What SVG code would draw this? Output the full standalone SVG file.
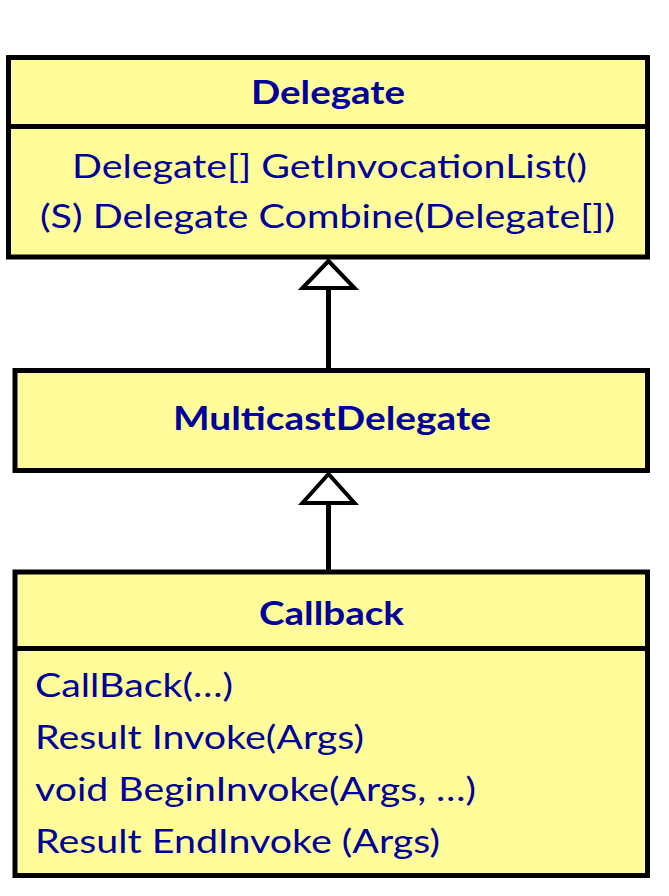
<svg xmlns="http://www.w3.org/2000/svg" width="669" height="896" viewBox="0 0 669 896">
<style>
.box{fill:#FFFC99;stroke:#000;stroke-width:5}
.div{stroke:#000;stroke-width:5}
.t{font-family:Lato,"Open Sans",sans-serif;font-size:33px;fill:#00009A}
.b{font-weight:bold}
.ln{stroke:#000;stroke-width:5;fill:none}
.tri{fill:#fff;stroke:#000;stroke-width:4;stroke-linejoin:miter}
</style>
<rect width="669" height="896" fill="#fff"/>
<g id="connectors">
<line class="ln" x1="328.5" y1="287" x2="328.5" y2="370"/>
<polygon class="tri" points="328.5,261 302.5,288 354.5,288"/>
<line class="ln" x1="328.5" y1="502" x2="328.5" y2="572"/>
<polygon class="tri" points="328.5,474 302.5,503 354.5,503"/>
</g>
<g id="delegate">
<rect class="box" x="8.5" y="57.5" width="639" height="199.5"/>
<line class="div" x1="8.5" y1="126.5" x2="647.5" y2="126.5"/>
<text class="t b" x="251" y="104" textLength="154" lengthAdjust="spacingAndGlyphs">Delegate</text>
<text class="t" x="72" y="178" textLength="515" lengthAdjust="spacingAndGlyphs">Delegate[] GetInvocationList()</text>
<text class="t" x="40" y="228" textLength="575" lengthAdjust="spacingAndGlyphs">(S) Delegate Combine(Delegate[])</text>
</g>
<g id="multicastdelegate">
<rect class="box" x="15" y="370.5" width="632.5" height="100"/>
<text class="t b" x="173" y="430" textLength="318" lengthAdjust="spacingAndGlyphs">MulticastDelegate</text>
</g>
<g id="callback">
<rect class="box" x="15" y="572" width="632.5" height="303.5"/>
<line class="div" x1="15" y1="648.5" x2="647.5" y2="648.5"/>
<text class="t b" x="259" y="625" textLength="145" lengthAdjust="spacingAndGlyphs">Callback</text>
<text class="t" x="35" y="697" textLength="198" lengthAdjust="spacingAndGlyphs">CallBack(…)</text>
<text class="t" x="35" y="749" textLength="329" lengthAdjust="spacingAndGlyphs">Result Invoke(Args)</text>
<text class="t" x="35" y="801" textLength="441" lengthAdjust="spacingAndGlyphs">void BeginInvoke(Args, …)</text>
<text class="t" x="35" y="853" textLength="405" lengthAdjust="spacingAndGlyphs">Result EndInvoke (Args)</text>
</g>
</svg>
